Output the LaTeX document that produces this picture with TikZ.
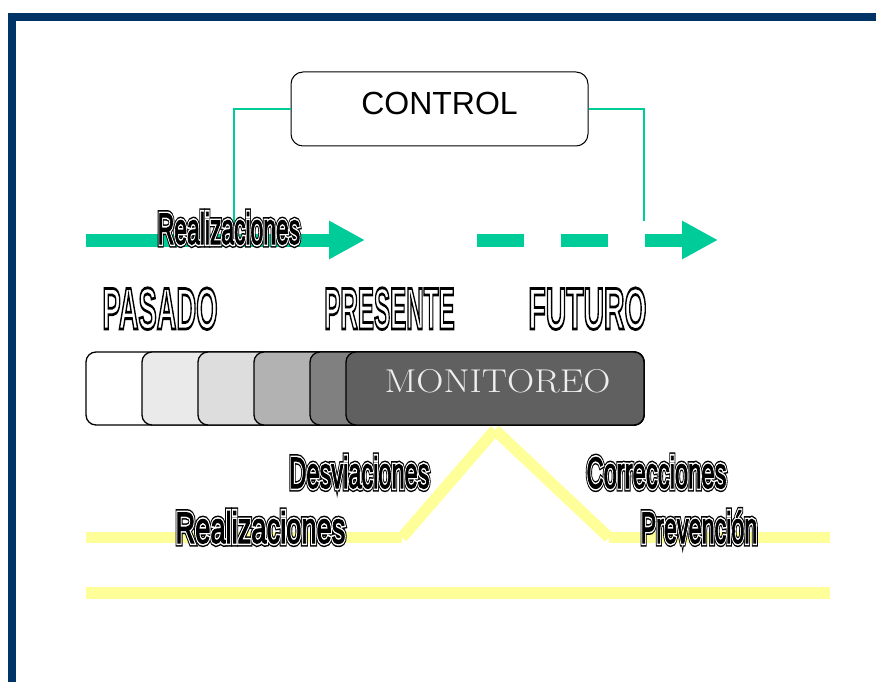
\documentclass[tikz,border=0pt]{standalone}
\usepackage{fontspec}
\usepackage{graphicx}
\usetikzlibrary{arrows.meta}
\newfontfamily\arialfont{Liberation Sans}
\definecolor{framebl}{RGB}{0,51,102}
\definecolor{ctlgreen}{RGB}{0,204,153}
\definecolor{hiyel}{RGB}{255,255,153}
\definecolor{stA}{RGB}{255,255,255}
\definecolor{stB}{RGB}{234,234,234}
\definecolor{stC}{RGB}{221,221,221}
\definecolor{stD}{RGB}{178,178,178}
\definecolor{stE}{RGB}{128,128,128}
\definecolor{stF}{RGB}{96,96,96}
\definecolor{montxt}{RGB}{238,238,238}

% raw PDF text-state operators (rendering mode, stroke width, stroke colour)
\newcommand{\pdfops}[1]{\special{pdf:literal direct #1}}
% hollow capitals: white letters with a black outline
\newcommand{\hollowword}[2]{\scalebox{#1}[1]{\fontsize{59}{59}\selectfont\arialfont\bfseries
  \color{white}\pdfops{0 0 0 RG 2 Tr 2.8 w}#2\pdfops{0 Tr}}}
% black letters with a white ring and a black outer line
\newcommand{\ringword}[2]{\scalebox{#1}[1]{\fontsize{44}{44}\selectfont\arialfont
  \rlap{\color{black}\pdfops{0 0 0 RG 2 Tr 7.4 w}#2\pdfops{0 Tr}}%
  \rlap{\color{black}\pdfops{1 1 1 RG 2 Tr 4.4 w}#2\pdfops{0 Tr}}%
  {\color{black}\pdfops{0 0 0 RG 2 Tr 1.2 w}#2\pdfops{0 Tr}}}}

\begin{document}
\begin{tikzpicture}[x=1pt,y=-1pt,
  ctlline/.style={draw=ctlgreen,line width=2pt},
  bigarrow/.style={color=ctlgreen,line width=13pt,-{Triangle[length=36pt,width=36pt]}},
  yband/.style={draw=hiyel,line width=11.5pt},
  stage/.style={draw=black,line width=1.3pt,rounded corners=10pt,minimum height=73pt,inner sep=0pt},
  wordlbl/.style={inner sep=0pt,anchor=base}]
\useasboundingbox (0,0) rectangle (876,682);

% page frame
\draw[framebl,line width=8pt,line join=miter] (11.5,700) -- (11.5,16.8) -- (900,16.8);

% control box and its feedback lines
\node[draw=black,line width=1pt,rounded corners=12pt,minimum width=297pt,minimum height=74pt,
      inner sep=0pt,text depth=11pt,font=\arialfont\fontsize{32}{32}\selectfont]
  (control) at (439.5,109) {CONTROL};
\coordinate (lcon) at (234,233);
\coordinate (rcon) at (644,221);
\draw[ctlline] (control.west) -| (lcon);
\draw[ctlline] (control.east) -| (rcon);

% time arrows
\coordinate (a1s) at (86,240);
\coordinate (a1e) at (365,240);
\coordinate (a2s) at (477,240);
\coordinate (a2e) at (718,240);
\draw[bigarrow] (a1s) -- (a1e);
\draw[bigarrow,dash pattern=on 47pt off 37pt] (a2s) -- (a2e);

% yellow lines
\coordinate (ya) at (86,537.5);
\coordinate (yb) at (402,537.5);
\coordinate (yp) at (495,430);
\coordinate (yc) at (609,537.5);
\coordinate (yd) at (830,537.5);
\coordinate (ye) at (86,593);
\coordinate (yf) at (830,593);
\draw[yband] (ya) -- (yb);
\draw[yband] (yb) -- (yp);
\draw[yband] (yp) -- (yc);
\draw[yband] (yc) -- (yd);
\draw[yband] (ye) -- (yf);

% stages, drawn back to front
\node[stage,fill=stA,minimum width=558pt] (s1) at (365,388.5) {};
\node[stage,fill=stB,minimum width=502pt] (s2) at (393,388.5) {};
\node[stage,fill=stC,minimum width=446pt] (s3) at (421,388.5) {};
\node[stage,fill=stD,minimum width=390pt] (s4) at (449,388.5) {};
\node[stage,fill=stE,minimum width=334pt] (s5) at (477,388.5) {};
\node[stage,fill=stF,minimum width=298pt] (s6) at (495,388.5) {};
\node[inner sep=0pt,text=montxt,font=\fontsize{33}{33}\selectfont] (mon) at (497.5,381.5)
  {\scalebox{1.14}[1]{MONITOREO}};

% labels
\node[wordlbl] (real1) at (229,244) {\ringword{0.52}{Realizaciones}};
\node[wordlbl] (pas) at (160,329) {\hollowword{0.464}{PASADO}};
\node[wordlbl] (pres) at (389.5,329) {\hollowword{0.41}{PRESENTE}};
\node[wordlbl] (fut) at (587.5,329) {\hollowword{0.48}{FUTURO}};
\node[wordlbl] (desv) at (359.5,488) {\ringword{0.535}{Desviaciones}};
\node[wordlbl] (corr) at (656.5,488) {\ringword{0.54}{Correcciones}};
\node[wordlbl] (real2) at (260.5,543) {\ringword{0.62}{Realizaciones}};
\node[wordlbl] (prev) at (699,543) {\ringword{0.53}{Prevención}};
\end{tikzpicture}
\end{document}
